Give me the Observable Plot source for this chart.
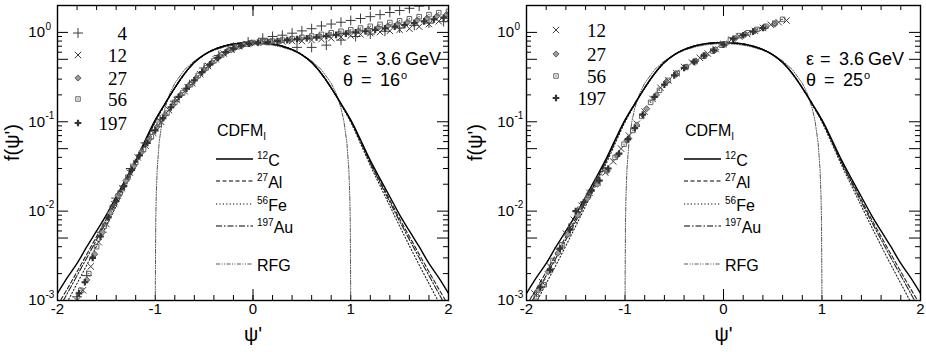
<!DOCTYPE html>
<html><head><meta charset="utf-8">
<script src="https://cdn.jsdelivr.net/npm/d3@7"></script>
<script src="https://cdn.jsdelivr.net/npm/@observablehq/plot@0.6"></script>
<style>
body{margin:0;background:#fff;}
#wrap{position:relative;width:926px;height:352px;overflow:hidden;}
.panel{position:absolute;top:0;}
</style></head><body><div id="wrap"></div>
<script>
// ---------- model curves ----------
const psiGrid = [-2.0,-1.9,-1.8,-1.7,-1.6,-1.5,-1.4,-1.3,-1.2,-1.1,-1.0,-0.9,-0.8,-0.7,-0.6,-0.5,-0.4,-0.3,-0.2,-0.1,0.0,0.1,0.2,0.3,0.4,0.5,0.6,0.7,0.8,0.9,1.0,1.1,1.2,1.3,1.4,1.5,1.6,1.7,1.8,1.9,2.0];
const cdfmC12 = [0.0012,0.0018,0.0026,0.0040,0.0060,0.0091,0.0145,0.023,0.037,0.063,0.105,0.16,0.24,0.345,0.46,0.56,0.64,0.70,0.74,0.762,0.77,0.762,0.74,0.70,0.64,0.56,0.46,0.345,0.24,0.16,0.105,0.063,0.037,0.023,0.0145,0.0091,0.0060,0.0040,0.0026,0.0018,0.0012];
const cdfmAl27 = [0.00088,0.00135,0.0021,0.0033,0.0052,0.0082,0.0133,0.0215,0.035,0.061,0.103,0.159,0.239,0.345,0.461,0.562,0.642,0.702,0.742,0.764,0.772,0.764,0.742,0.702,0.642,0.562,0.461,0.345,0.239,0.159,0.103,0.061,0.035,0.0215,0.0133,0.0082,0.0052,0.0033,0.0021,0.00135,0.00088];
const cdfmFe56 = [0.0006,0.00096,0.00155,0.0025,0.0041,0.0068,0.0114,0.0192,0.0325,0.057,0.099,0.156,0.238,0.346,0.463,0.565,0.646,0.706,0.746,0.768,0.776,0.768,0.746,0.706,0.646,0.565,0.463,0.346,0.238,0.156,0.099,0.057,0.0325,0.0192,0.0114,0.0068,0.0041,0.0025,0.00155,0.00096,0.0006];
const cdfmAu197 = [0.00076,0.0012,0.0019,0.0030,0.0048,0.0077,0.0126,0.0208,0.0345,0.060,0.102,0.158,0.239,0.346,0.462,0.563,0.644,0.704,0.744,0.766,0.774,0.766,0.744,0.704,0.644,0.563,0.462,0.346,0.239,0.158,0.102,0.060,0.0345,0.0208,0.0126,0.0077,0.0048,0.0030,0.0019,0.0012,0.00076];
const rfgPsi = [-1.0,-0.999,-0.995,-0.99,-0.98,-0.96,-0.93,-0.9,-0.85,-0.8,-0.7,-0.6,-0.5,-0.4,-0.3,-0.2,-0.1,0.0,0.1,0.2,0.3,0.4,0.5,0.6,0.7,0.8,0.85,0.9,0.93,0.96,0.98,0.99,0.995,0.999,1.0];
const rfgF = [0.0001,0.0015,0.0075,0.0149,0.0297,0.0588,0.101,0.1425,0.208,0.27,0.3825,0.48,0.5625,0.63,0.6825,0.72,0.7425,0.75,0.7425,0.72,0.6825,0.63,0.5625,0.48,0.3825,0.27,0.208,0.1425,0.101,0.0588,0.0297,0.0149,0.0075,0.0015,0.0001];

// ---------- data, left panel (theta = 16 deg) ----------
const l4Psi = [-1.80,-1.70,-1.55,-1.40,-1.25,-1.10,-0.95,-0.80,-0.65,-0.50,-0.35,-0.20,-0.05,0.10,0.20,0.30,0.40,0.50,0.60,0.70,0.80,0.90,1.00,1.10,1.20,1.30,1.40,1.50,1.60,1.70,0.45,0.60,0.75,0.90,1.05,1.20,1.35,1.50,1.65,1.80,1.95];
const l4F = [0.0011,0.0019,0.0058,0.014,0.030,0.058,0.105,0.17,0.26,0.40,0.55,0.68,0.78,0.86,0.90,0.93,0.98,1.04,1.10,1.18,1.24,1.30,1.36,1.43,1.50,1.58,1.67,1.76,1.86,1.97,0.68,0.68,0.72,0.82,0.90,0.96,1.03,1.12,1.20,1.27,1.32];
const l12Psi = [-1.80,-1.74,-1.66,-1.58,-1.50,-1.42,-1.34,-1.26,-1.18,-1.10,-1.02,-0.94,-0.86,-0.78,-0.70,-0.62,-0.54,-0.46,-0.38,-0.30,-0.22,-0.14,-0.06,0.02,0.10,0.20,0.30,0.40,0.50,0.60,0.70,0.80,0.90,1.00,1.10,1.20,1.30,1.40,1.50,1.60,1.70,1.80,1.90,2.00];
const l12F = [0.0010,0.0013,0.0024,0.0045,0.0072,0.012,0.018,0.027,0.040,0.054,0.075,0.10,0.135,0.175,0.22,0.27,0.34,0.42,0.50,0.58,0.64,0.70,0.74,0.76,0.78,0.78,0.79,0.80,0.80,0.82,0.84,0.86,0.89,0.92,0.95,0.98,1.01,1.04,1.07,1.10,1.16,1.24,1.33,1.40];
const l27Psi = [-1.70,-1.62,-1.54,-1.46,-1.38,-1.30,-1.22,-1.14,-1.06,-0.98,-0.90,-0.82,-0.74,-0.66,-0.58,-0.50,-0.42,-0.34,-0.26,-0.18,-0.10,-0.02,0.08,0.18,0.28,0.38,0.48,0.58,0.68,0.78,0.88,0.98,1.08,1.18,1.28,1.38,1.48,1.58,1.68,1.78,1.88,1.98];
const l27F = [0.0017,0.0033,0.0058,0.0095,0.015,0.022,0.032,0.046,0.064,0.088,0.12,0.155,0.20,0.25,0.31,0.38,0.46,0.54,0.62,0.68,0.73,0.76,0.77,0.79,0.80,0.82,0.85,0.88,0.91,0.94,0.97,1.00,1.04,1.08,1.13,1.18,1.24,1.30,1.37,1.44,1.52,1.58];
const l56Psi = [-1.82,-1.76,-1.68,-1.60,-1.52,-1.44,-1.36,-1.28,-1.20,-1.12,-1.04,-0.96,-0.88,-0.80,-0.72,-0.64,-0.56,-0.48,-0.40,-0.32,-0.24,-0.16,-0.08,0.00,0.10,0.20,0.30,0.40,0.50,0.60,0.70,0.80,0.90,1.00,1.10,1.20,1.30,1.40,1.50,1.60,1.70,1.80,1.90,2.00];
const l56F = [0.0009,0.0013,0.0020,0.0040,0.0068,0.011,0.016,0.024,0.035,0.049,0.068,0.094,0.125,0.165,0.21,0.26,0.33,0.40,0.48,0.56,0.63,0.69,0.74,0.77,0.79,0.80,0.82,0.85,0.88,0.91,0.95,0.99,1.03,1.07,1.12,1.17,1.23,1.29,1.35,1.42,1.50,1.58,1.66,1.72];
const l197Psi = [-1.78,-1.72,-1.64,-1.56,-1.48,-1.40,-1.32,-1.24,-1.16,-1.08,-1.00,-0.92,-0.84,-0.76,-0.68,-0.60,-0.52,-0.44,-0.36,-0.28,-0.20,-0.12,-0.04,0.05,0.15,0.25,0.35,0.45,0.55,0.65,0.75,0.85,0.95,1.05,1.15,1.25,1.35,1.45,1.55,1.65,1.75,1.85,1.95];
const l197F = [0.0012,0.0016,0.0030,0.0052,0.0085,0.013,0.019,0.029,0.042,0.058,0.080,0.11,0.145,0.19,0.235,0.29,0.36,0.44,0.52,0.60,0.66,0.71,0.75,0.77,0.78,0.80,0.82,0.84,0.86,0.88,0.91,0.94,0.97,1.00,1.03,1.07,1.11,1.16,1.21,1.27,1.33,1.40,1.46];

// ---------- data, right panel (theta = 25 deg) ----------
const r12Psi = [-1.92,-1.84,-1.76,-1.68,-1.60,-1.52,-1.44,-1.36,-1.28,-1.20,-1.12,-1.04,-0.96,-0.88,-0.80,-0.72,-0.64,-0.56,-0.48,-0.40,-0.32,-0.24,-0.16,-0.08,0.00,0.08,0.16,0.24,0.32,0.40,0.48,0.56,0.64];
const r12F = [0.0012,0.0016,0.0024,0.0036,0.0056,0.0080,0.0115,0.016,0.021,0.027,0.036,0.050,0.070,0.095,0.13,0.18,0.24,0.29,0.35,0.41,0.46,0.52,0.58,0.65,0.74,0.83,0.90,0.96,1.04,1.12,1.22,1.30,1.36];
const r27Psi = [-1.88,-1.78,-1.68,-1.58,-1.48,-1.38,-1.28,-1.18,-1.08,-0.98,-0.88,-0.78,-0.68,-0.58,-0.48,-0.38,-0.28,-0.18,-0.08,0.02,0.12,0.22,0.32,0.42,0.52];
const r27F = [0.0013,0.0021,0.0034,0.0055,0.0090,0.014,0.020,0.028,0.042,0.062,0.092,0.14,0.20,0.28,0.34,0.41,0.48,0.56,0.64,0.74,0.86,0.95,1.04,1.14,1.24];
const r56Psi = [-1.90,-1.82,-1.73,-1.64,-1.55,-1.46,-1.37,-1.28,-1.19,-1.10,-1.01,-0.92,-0.83,-0.74,-0.65,-0.56,-0.47,-0.38,-0.29,-0.20,-0.11,-0.02,0.07,0.16,0.25,0.34,0.43,0.52,0.60];
const r56F = [0.0011,0.0015,0.0028,0.0042,0.0068,0.0105,0.015,0.022,0.029,0.040,0.056,0.080,0.115,0.165,0.225,0.29,0.35,0.41,0.47,0.54,0.62,0.72,0.82,0.92,0.99,1.08,1.17,1.27,1.40];
const r197Psi = [-1.86,-1.76,-1.66,-1.56,-1.50,-1.42,-1.34,-1.26,-1.17,-1.06,-0.97,-0.90,-0.82,-0.70,-0.60,-0.50,-0.40,-0.30,-0.20,-0.10,0.00,0.10,0.20,0.30,0.40];
const r197F = [0.0014,0.0022,0.0038,0.0062,0.0100,0.0125,0.017,0.022,0.030,0.044,0.064,0.085,0.12,0.19,0.26,0.33,0.40,0.47,0.55,0.63,0.73,0.85,0.93,1.02,1.12];

// ---------- axes ----------
const xTickVals = [-2,-1.8,-1.6,-1.4,-1.2,-1,-0.8,-0.6,-0.4,-0.2,0,0.2,0.4,0.6,0.8,1,1.2,1.4,1.6,1.8,2];
const xLongTick = [0];
const xLabelVals = [-2,-1,0,1,2];
const xLabelText = ["-2","-1","0","1","2"];
const yMajorTicks = [0.001,0.005,0.01,0.05,0.1,0.5,1];
const yMinorTicks = [0.002,0.003,0.004,0.006,0.007,0.008,0.009,0.02,0.03,0.04,0.06,0.07,0.08,0.09,0.2,0.3,0.4,0.6,0.7,0.8,0.9,2];
const yLabelVals = [0.001,0.01,0.1,1];
const yExpLabels = ["-3","-2","-1","0"];
const cdfmLegendLabels = [["12","C"],["27","Al"],["56","Fe"],["197","Au"],["","RFG"]];

const W = 463, H = 352, MT = 5, MB = 52;
const SANS = "'Liberation Sans', Arial, Helvetica, sans-serif";
const SERIF = "'Liberation Serif', 'Times New Roman', serif";
const symbolTypes = {plus: d3.symbolPlus, times: d3.symbolTimes, diamond2: d3.symbolDiamond2, square2: d3.symbolSquare2, cross: d3.symbolCross};
const symStyle = {
  plus:     {r: 3.3, fill: "none", stroke: "#3a3a3a", sw: 1},
  times:    {r: 3.0, fill: "none", stroke: "#3a3a3a", sw: 1},
  diamond2: {r: 2.8, fill: "#9a9a9a", stroke: "#555", sw: 0.9},
  square2:  {r: 2.9, fill: "none", stroke: "#555", sw: 0.9},
  cross:    {r: 2.8, fill: "#333", stroke: "none", sw: 0}
};

function rows(xs, ys) { return xs.map((x, i) => ({x, y: ys[i]})); }

function seriesMarks(s) {
  const st = symStyle[s.symbol];
  const m = [Plot.dot(rows(s.psi, s.f), {x: "x", y: "y", symbol: s.symbol, r: st.r, fill: st.fill, stroke: st.stroke, strokeWidth: st.sw, clip: true})];
  if (s.symbol === "square2") m.push(Plot.dot(rows(s.psi, s.f), {x: "x", y: "y", r: 0.7, fill: "#555", stroke: "none", clip: true}));
  return m;
}

function makePanel(cfg) {
  const fw = W - cfg.ml - cfg.mr, fh = H - MT - MB;
  const curve = (ys, dash, sw, col) => Plot.line(rows(psiGrid, ys), {x: "x", y: "y", stroke: col, strokeWidth: sw, strokeDasharray: dash, curve: "catmull-rom", clip: true});
  const marks = [
    Plot.tickX(xTickVals, {x: d => d, insetTop: fh - 5, stroke: "#000"}),
    Plot.tickX(xTickVals, {x: d => d, insetBottom: fh - 5, stroke: "#000"}),
    Plot.tickX(xLongTick, {x: d => d, insetTop: fh - 11, stroke: "#000"}),
    Plot.tickX(xLongTick, {x: d => d, insetBottom: fh - 11, stroke: "#000"}),
    Plot.tickY(yMajorTicks, {y: d => d, insetRight: fw - 11, stroke: "#000"}),
    Plot.tickY(yMajorTicks, {y: d => d, insetLeft: fw - 11, stroke: "#000"}),
    Plot.tickY(yMinorTicks, {y: d => d, insetRight: fw - 5, stroke: "#000"}),
    Plot.tickY(yMinorTicks, {y: d => d, insetLeft: fw - 5, stroke: "#000"}),
    Plot.line(rows(rfgPsi, rfgF), {x: "x", y: "y", stroke: "#444", strokeWidth: 0.9, strokeDasharray: "4,1.5,1,1.5,1,1.5", clip: true}),
    curve(cdfmFe56, "1.2,2.2", 1.1, "#222"),
    curve(cdfmAu197, "6,2,1.5,2", 1.1, "#222"),
    curve(cdfmAl27, "4,2.5", 1.1, "#222"),
    curve(cdfmC12, undefined, 1.4, "#000"),
    ...cfg.series.flatMap(seriesMarks),
    Plot.frame({stroke: "#000", strokeWidth: 1.4}),
    Plot.text(xLabelVals, {x: d => d, text: (d, i) => xLabelText[i], frameAnchor: "bottom", dy: 13, fontSize: 15}),
    Plot.text(yLabelVals, {y: d => d, text: () => "10", frameAnchor: "left", dx: -12.5, textAnchor: "end", fontSize: 15}),
    Plot.text(yLabelVals, {y: d => d, text: (d, i) => yExpLabels[i], frameAnchor: "left", dx: -12, dy: -6, textAnchor: "start", fontSize: 10}),
    Plot.text(["f(ψ')"], {frameAnchor: "left", dx: cfg.yTitleDx, dy: 8, rotate: -90, fontSize: 20}),
    Plot.text(["ψ'"], {frameAnchor: "bottom", dy: 40, fontSize: 20})
  ];
  const svgEl = Plot.plot({
    width: W, height: H, marginTop: MT, marginBottom: MB, marginLeft: cfg.ml, marginRight: cfg.mr,
    x: {domain: [-2, 2], axis: null},
    y: {type: "log", domain: [0.001, 2], axis: null},
    style: {fontFamily: SANS, fontSize: "15px", color: "#000", background: "#fff", overflow: "visible"},
    marks
  });
  const g = d3.select(svgEl).append("g").attr("font-family", SANS).attr("fill", "#000").attr("text-anchor", "start");
  // data legend
  cfg.series.forEach((s, i) => {
    const y = cfg.legYs[i], st = symStyle[s.symbol];
    g.append("path")
      .attr("d", d3.symbol().type(symbolTypes[s.symbol]).size(st.r * st.r * Math.PI)())
      .attr("transform", `translate(${cfg.symX},${y})`)
      .attr("fill", st.fill).attr("stroke", st.stroke).attr("stroke-width", st.sw);
    if (s.symbol === "square2") g.append("circle").attr("cx", cfg.symX).attr("cy", y).attr("r", 0.7).attr("fill", "#555");
    g.append("text").attr("x", cfg.numX).attr("y", y).attr("dy", "0.36em").attr("text-anchor", "end")
      .attr("font-family", SERIF).attr("font-size", 19).text(s.label);
  });
  // model legend
  const t0 = g.append("text").attr("x", cfg.cdfmX).attr("y", 136).attr("font-size", 16).attr("text-anchor", "start");
  t0.append("tspan").text("CDFM");
  t0.append("tspan").attr("font-size", 10).attr("dy", 4).text("I");
  const dashes = [null, "4,2.5", "1.2,2.2", "6,2,1.5,2", "4,1.5,1,1.5,1,1.5"];
  const widths = [1.4, 1.1, 1.1, 1.1, 0.9];
  const lineYs = [159, 181, 204, 226, 264];
  cdfmLegendLabels.forEach(([sup, main], i) => {
    const y = lineYs[i];
    g.append("line").attr("x1", cfg.cdfmX - 1).attr("x2", cfg.cdfmX + 36).attr("y1", y).attr("y2", y)
      .attr("stroke", i === 4 ? "#444" : "#000").attr("stroke-width", widths[i]).attr("stroke-dasharray", dashes[i]);
    const t = g.append("text").attr("x", cfg.cdfmX + 40).attr("y", y + 7).attr("font-size", 16).attr("text-anchor", "start");
    if (sup) {
      t.append("tspan").attr("font-size", 10).attr("dy", -7).text(sup);
      t.append("tspan").attr("dy", 7).text(main);
    } else {
      t.append("tspan").text(main);
    }
  });
  // kinematics (pieces spaced as in the original)
  const a = cfg.annX;
  const t1 = g.append("text").attr("y", 65).attr("font-size", 18).attr("text-anchor", "start");
  t1.append("tspan").attr("x", a).text("ε");
  t1.append("tspan").attr("x", a + 14).text("=");
  t1.append("tspan").attr("x", a + 33).text("3.6");
  t1.append("tspan").attr("x", a + 62).text("GeV");
  const t2 = g.append("text").attr("y", 86).attr("font-size", 18).attr("text-anchor", "start");
  t2.append("tspan").attr("x", a).text("θ");
  t2.append("tspan").attr("x", a + 18).text("=");
  t2.append("tspan").attr("x", a + 37).text(cfg.theta);
  t2.append("tspan").attr("x", a + 58).attr("dy", -7).attr("font-size", 11).text("o");
  return svgEl;
}

const leftSeries = [
  {label: "4",   symbol: "plus",     psi: l4Psi,   f: l4F},
  {label: "12",  symbol: "times",    psi: l12Psi,  f: l12F},
  {label: "27",  symbol: "diamond2", psi: l27Psi,  f: l27F},
  {label: "56",  symbol: "square2",  psi: l56Psi,  f: l56F},
  {label: "197", symbol: "cross",    psi: l197Psi, f: l197F}
];
const rightSeries = [
  {label: "12",  symbol: "times",    psi: r12Psi,  f: r12F},
  {label: "27",  symbol: "diamond2", psi: r27Psi,  f: r27F},
  {label: "56",  symbol: "square2",  psi: r56Psi,  f: r56F},
  {label: "197", symbol: "cross",    psi: r197Psi, f: r197F}
];

const wrap = document.getElementById("wrap");
const left = makePanel({ml: 57, mr: 15, series: leftSeries, legYs: [33, 55, 78, 99, 123], symX: 78, numX: 127, cdfmX: 217, annX: 343, theta: "16", yTitleDx: -45});
const right = makePanel({ml: 63, mr: 6, series: rightSeries, legYs: [30, 54, 76, 98], symX: 93, numX: 143, cdfmX: 222, annX: 343, theta: "25", yTitleDx: -51});
const d1 = document.createElement("div"); d1.className = "panel"; d1.style.left = "0px"; d1.appendChild(left);
const d2 = document.createElement("div"); d2.className = "panel"; d2.style.left = "463px"; d2.appendChild(right);
wrap.appendChild(d1); wrap.appendChild(d2);
</script>
</body></html>
